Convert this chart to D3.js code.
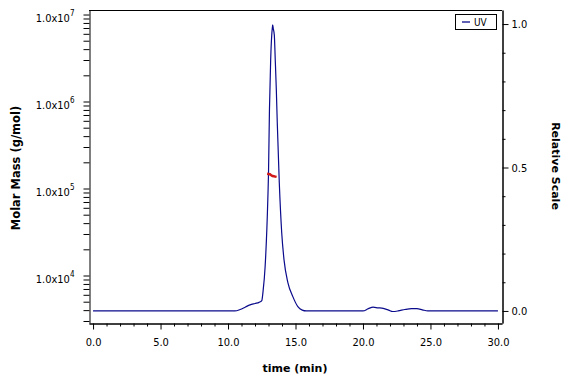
<!doctype html>
<html>
<head>
<meta charset="utf-8">
<title>Molar Mass vs time</title>
<script src="https://cdn.jsdelivr.net/npm/d3@7"></script>
<style>
    body { margin: 0; background: #fff; }
    text { font-family: "DejaVu Sans Condensed", "DejaVu Sans", sans-serif; }
</style>
</head>
<body>
<script>
// UV trace (relative scale)
var time = [0, 10.5, 10.9, 11.3, 11.63, 12.0, 12.3, 12.5, 12.6, 12.75, 12.95, 13.0, 13.07, 13.16, 13.24, 13.28, 13.31,
            13.35, 13.43, 13.5, 13.58, 13.65, 13.8, 13.98, 14.15, 14.44, 14.81, 15.19, 15.5, 15.8,
            20.0, 20.4, 20.75, 21.1, 21.5, 21.9, 22.2, 22.6, 23.1, 23.6, 24.0, 24.4, 24.8, 30.0];
var uv = [0, 0, 0.005, 0.014, 0.021, 0.026, 0.030, 0.036, 0.07, 0.155, 0.39, 0.48, 0.70, 0.875, 0.962, 0.985, 0.997,
          0.985, 0.962, 0.875, 0.77, 0.655, 0.446, 0.272, 0.178, 0.098, 0.049, 0.014, 0.003, 0,
          0, 0.008, 0.013, 0.011, 0.009, 0.003, -0.002, 0, 0.005, 0.008, 0.008, 0.004, 0, 0];

// molar mass slices
var massTime = [12.9, 13.0, 13.1, 13.2, 13.3, 13.4, 13.5, 13.6];
var mass = [1.48e5, 1.47e5, 1.46e5, 1.42e5, 1.39e5, 1.38e5, 1.37e5, 1.36e5];

var timeTicks = [0, 5, 10, 15, 20, 25, 30];
var relTicks = [0, 0.5, 1.0];
var massDecades = [1e4, 1e5, 1e6, 1e7];

var svg = d3.select("body").append("svg").attr("width", 576).attr("height", 384);

var x = d3.scaleLinear().domain([-0.3, 30.3]).range([89, 502]);
var yRel = d3.scaleLinear().domain([-0.042, 1.049]).range([323, 10]);
var yMass = d3.scaleLog().domain([2845, 1.127e7]).range([323, 10]);

// top border
svg.append("line").attr("x1", 89).attr("x2", 502).attr("y1", 10.5).attr("y2", 10.5)
    .attr("stroke", "#000");

// x axis
var minorX = d3.range(0, 31).filter(function (d) { return d % 5 != 0; });
svg.append("g").attr("transform", "translate(0,323.5)")
    .call(d3.axisBottom(x).tickValues(minorX).tickSize(3).tickFormat("").tickSizeOuter(0));
var gx = svg.append("g").attr("transform", "translate(0,323.5)")
    .call(d3.axisBottom(x).tickValues(timeTicks).tickSize(6).tickPadding(9)
        .tickFormat(d3.format(".1f")).tickSizeOuter(0));

// left log axis
var gl = svg.append("g").attr("transform", "translate(89.5,0)")
    .call(d3.axisLeft(yMass).ticks(10).tickSize(6).tickPadding(9).tickFormat("").tickSizeOuter(0));
gl.selectAll(".tick text").each(function (d) {
    var e = Math.round(Math.log10(d));
    if (Math.abs(d - Math.pow(10, e)) < 1e-6 * d && massDecades.indexOf(d) >= 0) {
        var t = d3.select(this).attr("dy", "0.6em");
        t.text("1.0x10");
        t.append("tspan").attr("dy", "-0.75em").attr("font-size", "8px").text(e);
    }
});

// right axis
var minorR = d3.range(1, 10).filter(function (d) { return d != 5; }).map(function (d) { return d / 10; });
svg.append("g").attr("transform", "translate(502.5,0)")
    .call(d3.axisRight(yRel).tickValues(minorR).tickSize(3).tickFormat("").tickSizeOuter(0));
svg.append("g").attr("transform", "translate(502.5,0)")
    .call(d3.axisRight(yRel).tickValues(relTicks).tickSize(6).tickPadding(3)
        .tickFormat(d3.format(".1f")).tickSizeOuter(0));

svg.selectAll(".tick text").attr("font-size", 11).attr("fill", "#000");

// UV line
var uvLine = d3.line()
    .x(function (d, i) { return x(time[i]); })
    .y(function (d) { return yRel(d); })
    .curve(d3.curveMonotoneX);
svg.append("path").datum(uv).attr("d", uvLine)
    .attr("fill", "none").attr("stroke", "#0a0a8c").attr("stroke-width", 1.2);

// molar mass
var massLine = d3.line()
    .x(function (d, i) { return x(massTime[i]); })
    .y(function (d) { return yMass(d); });
svg.append("path").datum(mass).attr("d", massLine)
    .attr("fill", "none").attr("stroke", "#d01818").attr("stroke-width", 2.5);

// titles
svg.append("text").attr("transform", "translate(20,168) rotate(-90)")
    .attr("text-anchor", "middle").style("font-family", "DejaVu Sans").attr("font-weight", "bold")
    .attr("font-size", 11.5).text("Molar Mass (g/mol)");
svg.append("text").attr("transform", "translate(552,166) rotate(90)")
    .attr("text-anchor", "middle").style("font-family", "DejaVu Sans").attr("font-weight", "bold")
    .attr("font-size", 11).text("Relative Scale");
svg.append("text").attr("x", 295).attr("y", 372)
    .attr("text-anchor", "middle").style("font-family", "DejaVu Sans").attr("font-weight", "bold")
    .attr("font-size", 11).text("time (min)");

// legend
var lg = svg.append("g");
lg.append("rect").attr("x", 455.5).attr("y", 14.5).attr("width", 41).attr("height", 15)
    .attr("fill", "#fff").attr("stroke", "#000");
lg.append("line").attr("x1", 462).attr("x2", 470).attr("y1", 22).attr("y2", 22)
    .attr("stroke", "#0a0a8c").attr("stroke-width", 1.3);
lg.append("text").attr("x", 474).attr("y", 22).attr("dy", "0.35em")
    .attr("font-size", 10).text("UV");
</script>
</body>
</html>
